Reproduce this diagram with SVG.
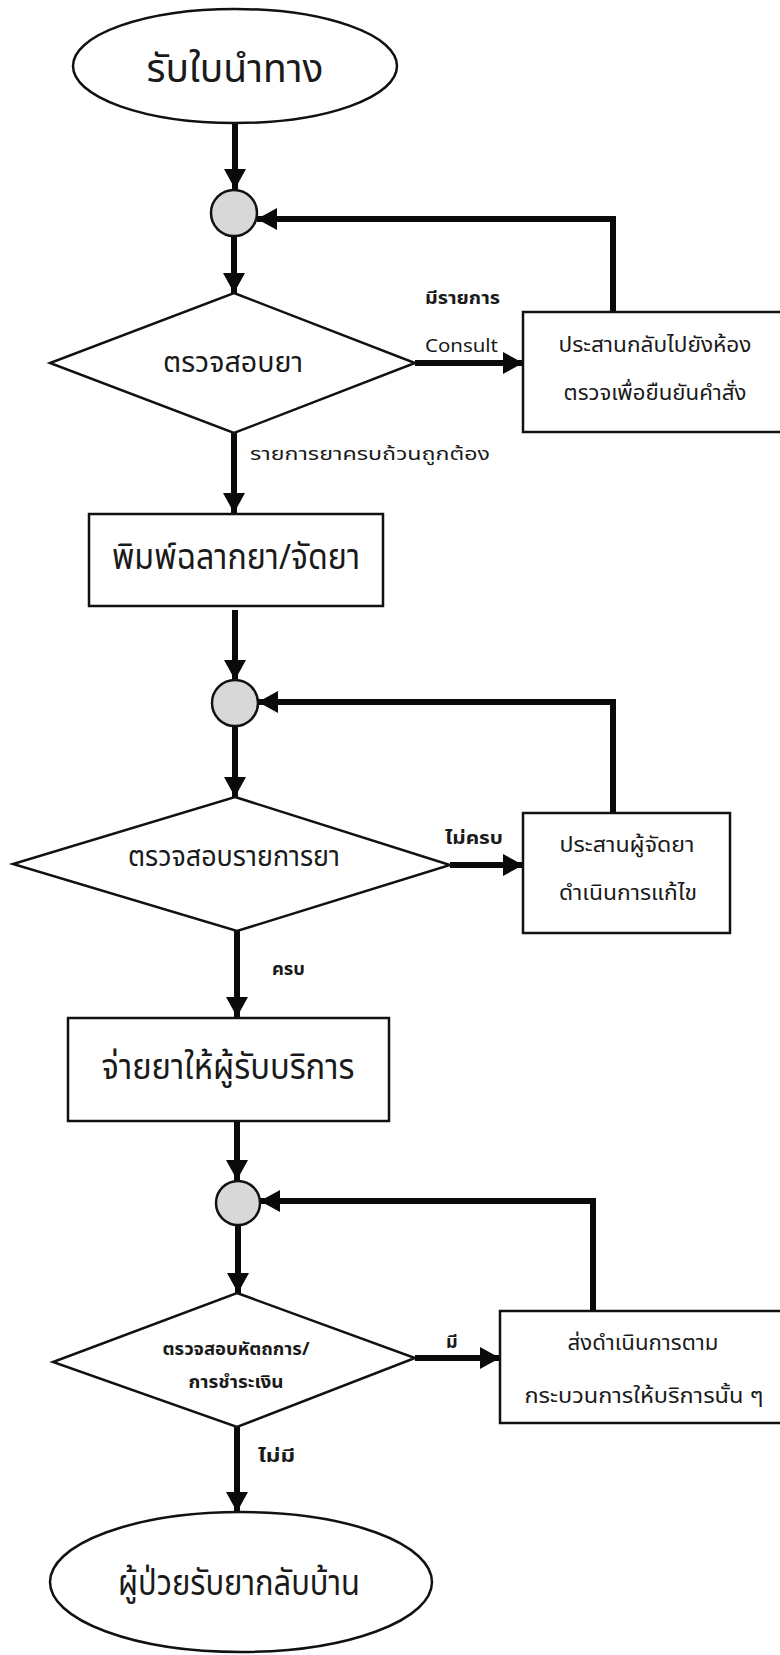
<svg xmlns="http://www.w3.org/2000/svg" width="780" height="1655" viewBox="0 0 780 1655">
<style>
  .shape { fill: #ffffff; stroke: #111; stroke-width: 2.5; }
  .junction { fill: #d8d8d8; stroke: #111; stroke-width: 2.5; }
  .conn { fill: none; stroke: #0a0a0a; stroke-width: 6; }
  .t { font-family: "Noto Sans Thai", "Noto Sans", "DejaVu Sans", sans-serif; fill: #1a1a1a; text-anchor: middle; }
  .lbl { font-family: "Noto Sans Thai", "Noto Sans", "DejaVu Sans", sans-serif; fill: #1a1a1a; font-size: 18px; }
</style>
<defs>
  <marker id="ah" markerUnits="userSpaceOnUse" markerWidth="22" markerHeight="22" refX="20" refY="11" orient="auto">
    <path d="M0,0 L20,11 L0,22 z" fill="#0a0a0a"/>
  </marker>
</defs>
<rect width="780" height="1655" fill="#ffffff"/>

<g id="connectors">
  <path class="conn" d="M235,123 V189" marker-end="url(#ah)"/>
  <path class="conn" d="M234,237 V293" marker-end="url(#ah)"/>
  <path class="conn" d="M415,363 H523" marker-end="url(#ah)"/>
  <path class="conn" d="M613,312 V219 H257" marker-end="url(#ah)"/>
  <path class="conn" d="M234,433 V513" marker-end="url(#ah)"/>
  <path class="conn" d="M235,610 V680" marker-end="url(#ah)"/>
  <path class="conn" d="M235,726 V797" marker-end="url(#ah)"/>
  <path class="conn" d="M450,865 H523" marker-end="url(#ah)"/>
  <path class="conn" d="M613,813 V702 H258" marker-end="url(#ah)"/>
  <path class="conn" d="M237,931 V1017" marker-end="url(#ah)"/>
  <path class="conn" d="M237,1121 V1180" marker-end="url(#ah)"/>
  <path class="conn" d="M238,1226 V1293" marker-end="url(#ah)"/>
  <path class="conn" d="M415,1358 H500" marker-end="url(#ah)"/>
  <path class="conn" d="M593,1311 V1201 H260" marker-end="url(#ah)"/>
  <path class="conn" d="M237,1427 V1512" marker-end="url(#ah)"/>
  <text class="lbl" x="425" y="304" font-weight="bold" textLength="75" lengthAdjust="spacingAndGlyphs">มีรายการ</text>
  <text class="lbl" x="425" y="352" font-size="19" textLength="73" lengthAdjust="spacingAndGlyphs">Consult</text>
  <text class="lbl" x="250" y="460" textLength="240" lengthAdjust="spacingAndGlyphs">รายการยาครบถ้วนถูกต้อง</text>
  <text class="lbl" x="445" y="844" font-weight="bold" textLength="58" lengthAdjust="spacingAndGlyphs">ไม่ครบ</text>
  <text class="lbl" x="272" y="975" font-weight="bold" textLength="33" lengthAdjust="spacingAndGlyphs">ครบ</text>
  <text class="lbl" x="446" y="1348" font-weight="bold">มี</text>
  <text class="lbl" x="258" y="1462" font-weight="bold" textLength="37" lengthAdjust="spacingAndGlyphs">ไม่มี</text>
</g>

<g id="start">
  <ellipse class="shape" cx="235" cy="66" rx="162" ry="57"/>
  <text class="t" x="235" y="82" font-size="40" textLength="177" lengthAdjust="spacingAndGlyphs">รับใบนำทาง</text>
</g>

<g id="junction1">
  <circle class="junction" cx="234" cy="213" r="23"/>
</g>

<g id="check-drug">
  <polygon class="shape" points="234,293 415,363 234,433 50,363"/>
  <text class="t" x="233" y="372" font-size="28" textLength="140" lengthAdjust="spacingAndGlyphs">ตรวจสอบยา</text>
</g>

<g id="consult-box">
  <rect class="shape" x="523" y="312" width="270" height="120"/>
  <text class="t" x="655" y="352" font-size="21" textLength="193" lengthAdjust="spacingAndGlyphs">ประสานกลับไปยังห้อง</text>
  <text class="t" x="655" y="400" font-size="21" textLength="183" lengthAdjust="spacingAndGlyphs">ตรวจเพื่อยืนยันคำสั่ง</text>
</g>

<g id="print-label">
  <rect class="shape" x="89" y="514" width="294" height="92"/>
  <text class="t" x="236" y="569" font-size="35" textLength="248" lengthAdjust="spacingAndGlyphs">พิมพ์ฉลากยา/จัดยา</text>
</g>

<g id="junction2">
  <circle class="junction" cx="235" cy="703" r="23"/>
</g>

<g id="check-list">
  <polygon class="shape" points="235,797 450,865 237,931 13,864"/>
  <text class="t" x="234" y="866" font-size="29" textLength="212" lengthAdjust="spacingAndGlyphs">ตรวจสอบรายการยา</text>
</g>

<g id="fix-box">
  <rect class="shape" x="523" y="813" width="207" height="120"/>
  <text class="t" x="627" y="852" font-size="21" textLength="135" lengthAdjust="spacingAndGlyphs">ประสานผู้จัดยา</text>
  <text class="t" x="628" y="900" font-size="21" textLength="138" lengthAdjust="spacingAndGlyphs">ดำเนินการแก้ไข</text>
</g>

<g id="dispense">
  <rect class="shape" x="68" y="1018" width="321" height="103"/>
  <text class="t" x="228" y="1079" font-size="35" textLength="253" lengthAdjust="spacingAndGlyphs">จ่ายยาให้ผู้รับบริการ</text>
</g>

<g id="junction3">
  <circle class="junction" cx="238" cy="1203" r="22"/>
</g>

<g id="check-payment">
  <polygon class="shape" points="237,1293 415,1358 237,1427 53,1362"/>
  <text class="t" x="236" y="1355" font-size="17" font-weight="bold" textLength="147" lengthAdjust="spacingAndGlyphs">ตรวจสอบหัตถการ/</text>
  <text class="t" x="236" y="1388" font-size="17" font-weight="bold" textLength="95" lengthAdjust="spacingAndGlyphs">การชำระเงิน</text>
</g>

<g id="service-box">
  <rect class="shape" x="500" y="1311" width="290" height="112"/>
  <text class="t" x="643" y="1350" font-size="21" textLength="151" lengthAdjust="spacingAndGlyphs">ส่งดำเนินการตาม</text>
  <text class="t" x="644" y="1403" font-size="21" textLength="239" lengthAdjust="spacingAndGlyphs">กระบวนการให้บริการนั้น ๆ</text>
</g>

<g id="end">
  <ellipse class="shape" cx="241" cy="1582" rx="191" ry="70"/>
  <text class="t" x="239" y="1595" font-size="36" textLength="242" lengthAdjust="spacingAndGlyphs">ผู้ป่วยรับยากลับบ้าน</text>
</g>
</svg>
